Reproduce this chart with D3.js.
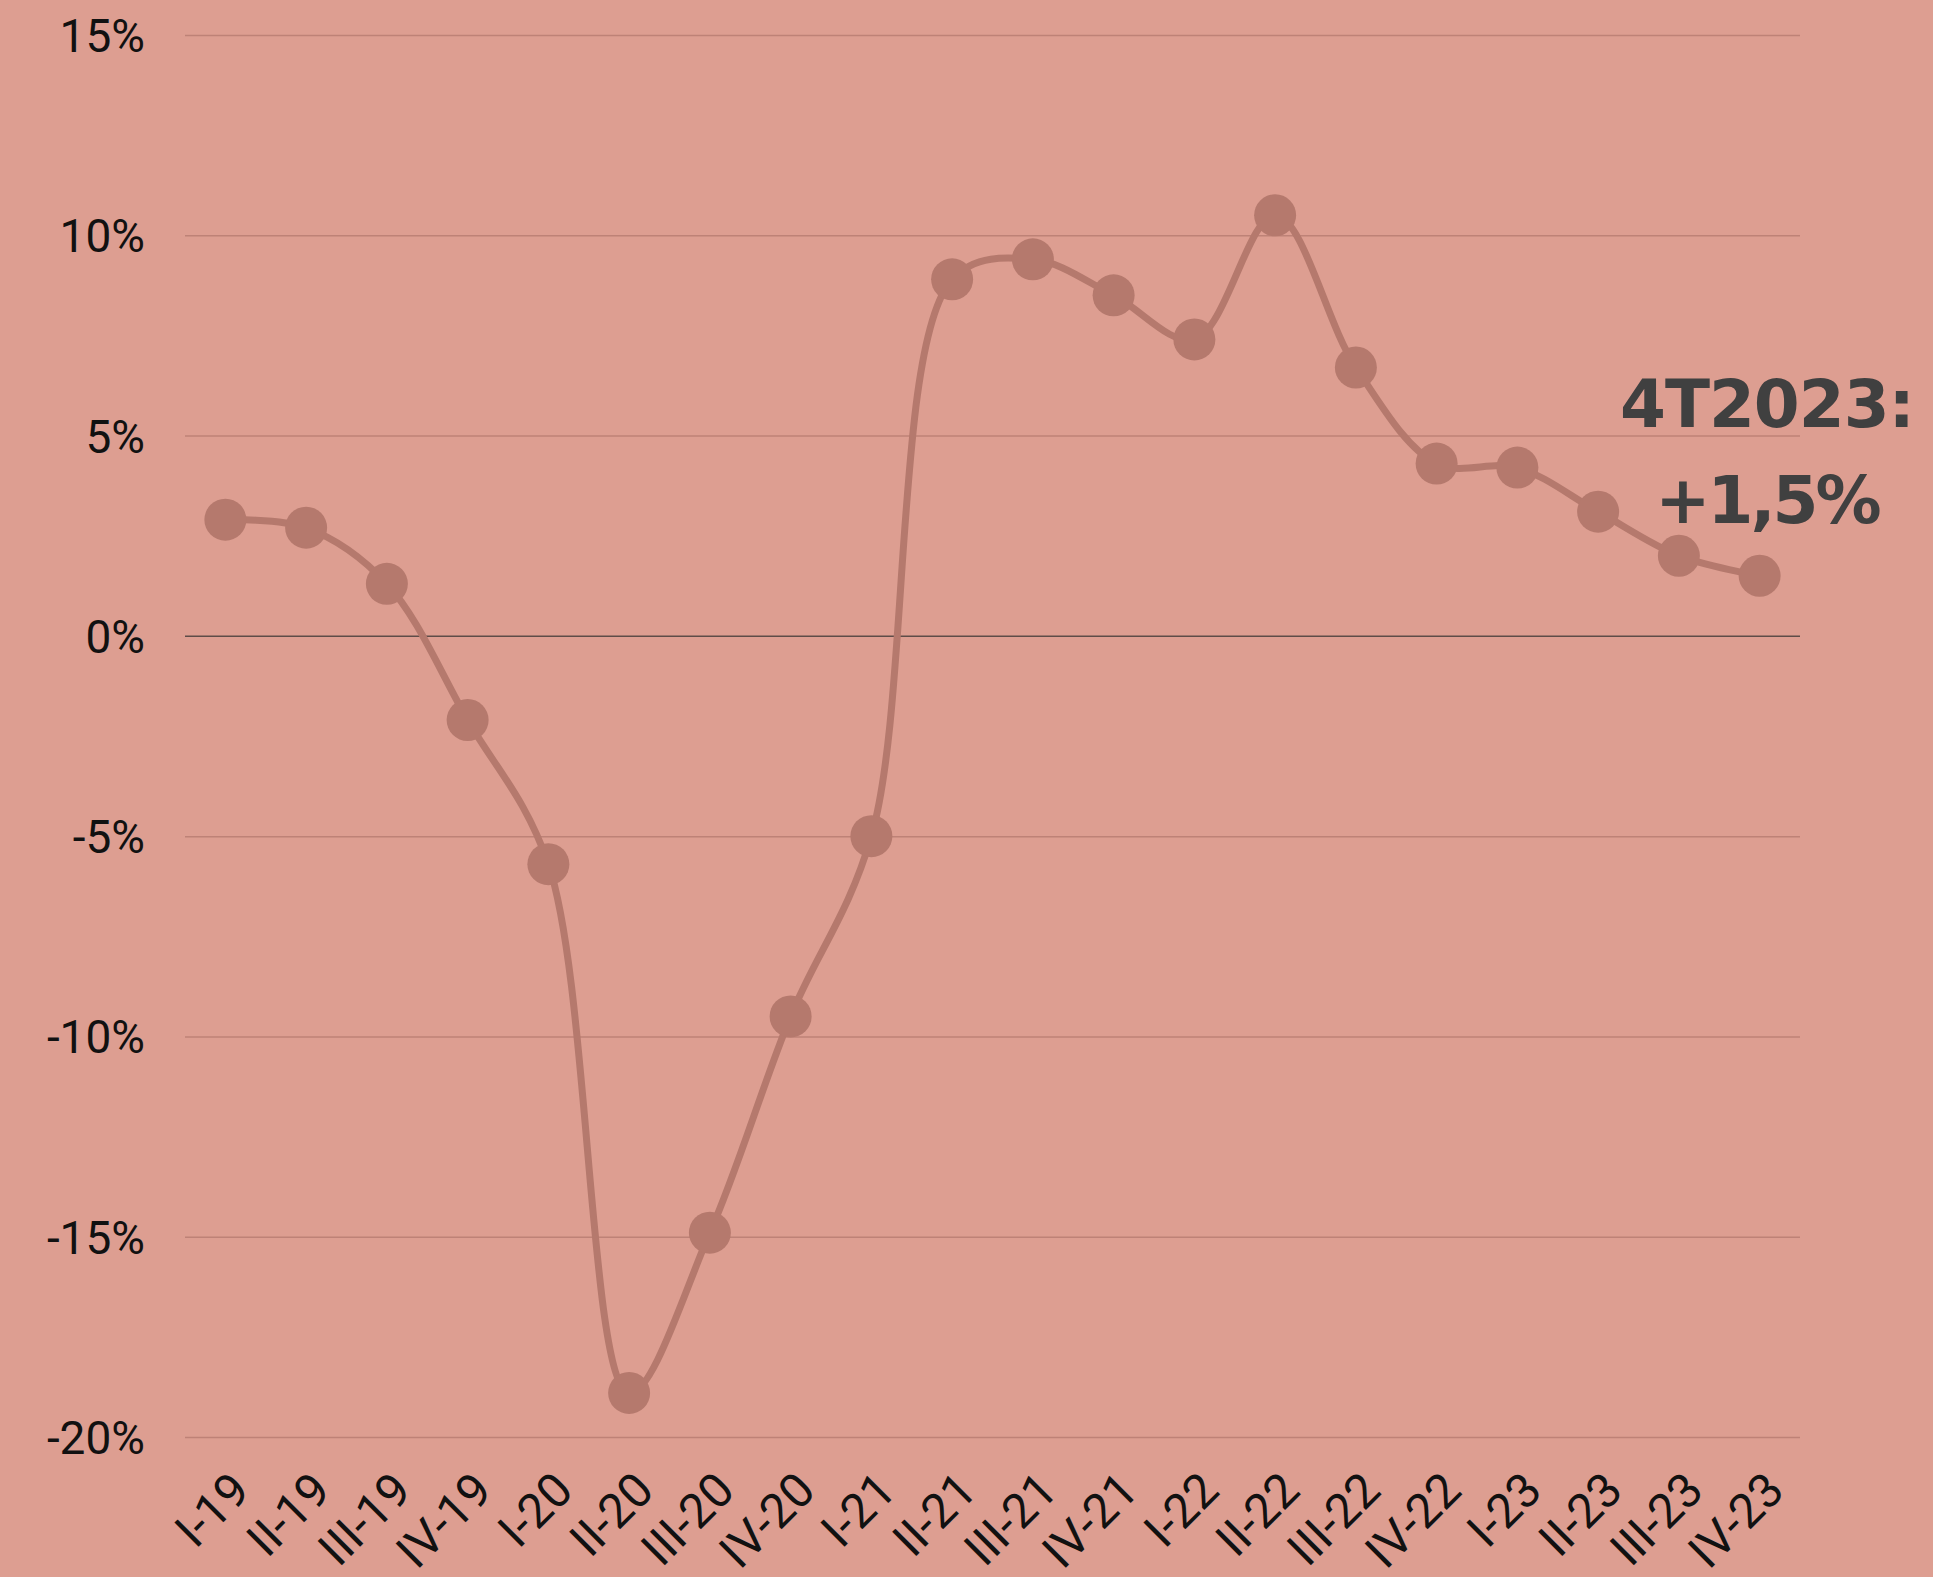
<!DOCTYPE html>
<html>
<head>
<meta charset="utf-8">
<script src="https://cdn.jsdelivr.net/npm/d3@7"></script>
<style>
  body { margin: 0; background: #dd9e91; }
  svg { display: block; }
</style>
</head>
<body>
<div id="chart"></div>
<script>
// quarterly growth, %
var quarters = ["I-19", "II-19", "III-19", "IV-19", "I-20", "II-20", "III-20", "IV-20",
                "I-21", "II-21", "III-21", "IV-21", "I-22", "II-22", "III-22", "IV-22",
                "I-23", "II-23", "III-23", "IV-23"];
var growth = [2.9, 2.7, 1.3, -2.1, -5.7, -18.9, -14.9, -9.5,
              -5.0, 8.9, 9.4, 8.5, 7.4, 10.5, 6.7, 4.3,
              4.2, 3.1, 2.0, 1.5];
var yTicks = [-20, -15, -10, -5, 0, 5, 10, 15];
var noteLines = ["4T2023:", "+1,5%"];

var width = 1933, height = 1577;
// plot area (note: "top" is reserved on window, so use other names)
var plotLeft = 185, plotRight = 1800, plotTop = 35, plotBottom = 1437;

var svg = d3.select("#chart")
    .append("svg")
    .attr("width", width)
    .attr("height", height);

svg.append("rect")
    .attr("width", width)
    .attr("height", height)
    .attr("fill", "#dd9e91");

var x = d3.scaleBand()
    .domain(quarters)
    .range([plotLeft, plotRight]);

var y = d3.scaleLinear()
    .domain([-20, 15])
    .range([plotBottom, plotTop]);

// y axis with gridlines
var yAxis = d3.axisLeft(y)
    .tickValues(yTicks)
    .tickSize(-(plotRight - plotLeft))
    .tickPadding(40)
    .tickFormat(d => d + "%");

var gy = svg.append("g")
    .attr("transform", "translate(" + plotLeft + ",0)")
    .call(yAxis);
gy.select(".domain").remove();
gy.selectAll("line")
    .attr("stroke", d => d === 0 ? "#5e4c48" : "#be8277")
    .attr("stroke-width", 1.5);
gy.selectAll("text")
    .attr("dy", "0.36em")
    .attr("fill", "#111")
    .style("font-family", "Roboto, sans-serif")
    .style("font-size", "46px");

// x axis labels, rotated
var xAxis = d3.axisBottom(x).tickSize(0);
var gx = svg.append("g")
    .attr("transform", "translate(0," + plotBottom + ")")
    .call(xAxis);
gx.select(".domain").remove();
gx.selectAll("text")
    .attr("x", 0)
    .attr("y", 0)
    .attr("dy", null)
    .attr("text-anchor", "end")
    .attr("transform", "translate(27,56) rotate(-45)")
    .attr("fill", "#111")
    .style("font-family", "Roboto, sans-serif")
    .style("font-size", "48px");

var cx = d => x(d) + x.bandwidth() / 2;
var pts = quarters.map((q, i) => [cx(q), y(growth[i])]);

var line = d3.line()
    .curve(d3.curveCatmullRom.alpha(0.5));

svg.append("path")
    .attr("d", line(pts))
    .attr("fill", "none")
    .attr("stroke", "#b5796d")
    .attr("stroke-width", 7);

svg.selectAll(".dot")
    .data(pts)
    .enter().append("circle")
    .attr("class", "dot")
    .attr("cx", d => d[0])
    .attr("cy", d => d[1])
    .attr("r", 21)
    .attr("fill", "#b5796d");

// annotation for the last quarter
svg.selectAll(".note")
    .data(noteLines)
    .enter().append("text")
    .attr("class", "note")
    .attr("x", 1767)
    .attr("y", (d, i) => 427 + i * 96)
    .attr("text-anchor", "middle")
    .attr("fill", "#404040")
    .style("font-family", "'DejaVu Sans', sans-serif")
    .style("font-weight", "bold")
    .style("font-size", "66px")
    .style("letter-spacing", (d, i) => i === 0 ? "-1px" : "-3px")
    .text(d => d);
</script>
</body>
</html>
